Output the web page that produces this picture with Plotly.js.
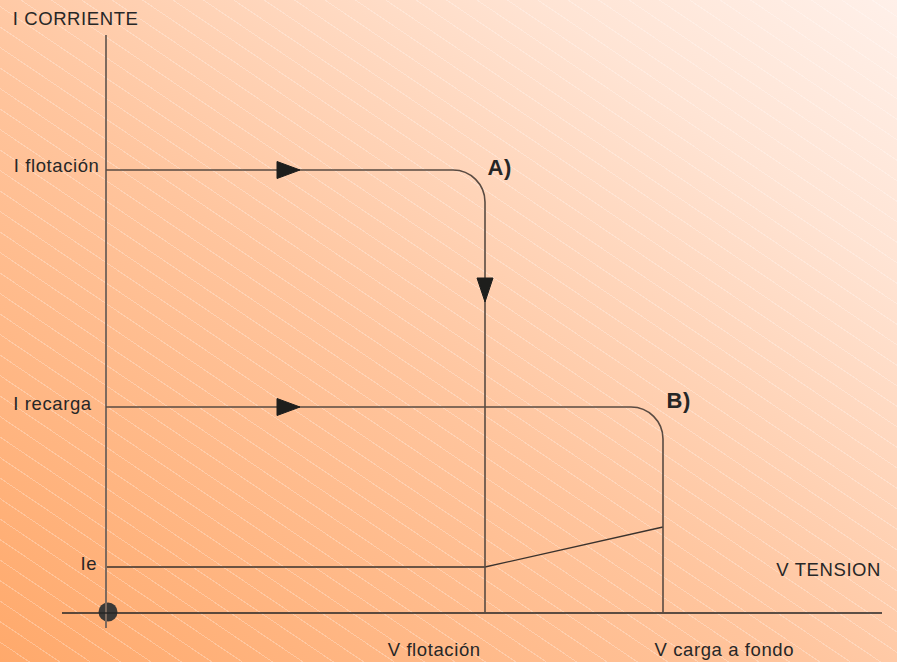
<!DOCTYPE html>
<html>
<head>
<meta charset="utf-8">
<script src="https://cdn.plot.ly/plotly-3.0.1.min.js"></script>
<style>
  html, body { margin: 0; padding: 0; }
  #chart {
    width: 897px; height: 662px;
    background:
      repeating-linear-gradient(34deg, rgba(255,255,255,0) 0px, rgba(255,255,255,0) 16px, rgba(255,255,255,0.26) 16px, rgba(255,255,255,0.26) 17px),
      linear-gradient(to top right, #ffa96b 0%, #ffc59e 45%, #ffe4d4 80%, #fff0e9 100%);
  }
  #chart svg text { letter-spacing: 0.6px; }
</style>
</head>
<body>
<div id="chart"></div>
<script>
// ---- data (units, origin at the axes crossing) ----
const vLabels = ['V flotación', 'V carga a fondo'];
const vValues = [3.79, 5.57];               // V flotación, V carga a fondo
const iLabels = ['I flotación', 'I recarga', 'Ie'];
const iValues = [4.43, 2.06, 0.46];         // I flotación, I recarga, Ie
const ieEndValue = 0.86;                    // current at V carga a fondo on the Ie line
const curveNames = ['A)', 'B)'];
const arrowStartX = [1.71, 1.71];           // right-pointing arrows on curves A and B
const arrowDownY = 3.35;                    // down-pointing arrow on curve A
const axisTitles = ['I CORRIENTE', 'V TENSION'];

// ---- drawing ----
const r = 0.32;            // corner radius
const k = 0.448;           // bezier handle factor (1 - 0.552)
const curveColor = '#5a4b42';
const axisColorV = '#7d6a5e';
const axisColorH = '#262626';
const textFont = {family: 'Liberation Sans, Arial, sans-serif', size: 18.5, color: '#272727'};

function cornerPath(v, i) {
  return 'M 0 ' + i +
    ' L ' + (v - r) + ' ' + i +
    ' C ' + (v - r * k) + ' ' + i + ' ' + v + ' ' + (i - r * k) + ' ' + v + ' ' + (i - r) +
    ' L ' + v + ' 0';
}

const shapes = [];
// axes
shapes.push({type: 'line', xref: 'x', yref: 'y', x0: 0, x1: 0, y0: -0.15, y1: 5.78,
  line: {color: axisColorV, width: 2}});
shapes.push({type: 'line', xref: 'x', yref: 'y', x0: -0.44, x1: 7.76, y0: 0, y1: 0,
  line: {color: axisColorH, width: 1.5}});
// curves A and B
shapes.push({type: 'path', xref: 'x', yref: 'y', path: cornerPath(vValues[0], iValues[0]),
  line: {color: curveColor, width: 1.6}});
shapes.push({type: 'path', xref: 'x', yref: 'y', path: cornerPath(vValues[1], iValues[1]),
  line: {color: curveColor, width: 1.6}});
// arrows
const ah = 0.085, aw = 0.23;
[0, 1].forEach(j => {
  const x0 = arrowStartX[j], y = iValues[j];
  shapes.push({type: 'path', xref: 'x', yref: 'y',
    path: 'M ' + x0 + ' ' + (y - ah) + ' L ' + x0 + ' ' + (y + ah) + ' L ' + (x0 + aw) + ' ' + y + ' Z',
    fillcolor: '#1e1e1c', line: {color: '#1e1e1c', width: 1}});
});
shapes.push({type: 'path', xref: 'x', yref: 'y',
  path: 'M ' + (vValues[0] - 0.08) + ' ' + arrowDownY + ' L ' + (vValues[0] + 0.08) + ' ' + arrowDownY +
        ' L ' + vValues[0] + ' ' + (arrowDownY - 0.24) + ' Z',
  fillcolor: '#1e1e1c', line: {color: '#1e1e1c', width: 1}});

const traces = [
  { // Ie line
    x: [0, vValues[0], vValues[1]],
    y: [iValues[2], iValues[2], ieEndValue],
    mode: 'lines', line: {color: '#3a322d', width: 1.3},
    hoverinfo: 'skip', showlegend: false
  },
  { // origin dot
    x: [0.02], y: [0.01], mode: 'markers',
    marker: {size: 19, color: '#3b3937'},
    hoverinfo: 'skip', showlegend: false
  }
];

const annotations = [];
function label(text, x, y, font, xanchor) {
  annotations.push({text: text, x: x, y: y, xref: 'x', yref: 'y', showarrow: false,
    xanchor: xanchor || 'left', yanchor: 'middle', font: font || textFont});
}
label(axisTitles[0], -0.92, 5.95);
label(axisTitles[1], 6.71, 0.44);
label(iLabels[0], -0.91, iValues[0] + 0.05);
label(iLabels[1], -0.92, iValues[1] + 0.04);
label(iLabels[2], -0.27, iValues[2] + 0.04);
label(vLabels[0], vValues[0] - 0.96, -0.36);
label(vLabels[1], vValues[1] - 0.06, -0.36);
const boldFont = {family: 'Liberation Sans, Arial, sans-serif', size: 22, color: '#262626', weight: 'bold'};
label('<b>' + curveNames[0] + '</b>', vValues[0] + 0.01, iValues[0] + 0.03, boldFont);
label('<b>' + curveNames[1] + '</b>', vValues[1] + 0.02, iValues[1] + 0.07, boldFont);

const layout = {
  width: 897, height: 662,
  margin: {l: 0, r: 0, t: 0, b: 0, pad: 0},
  paper_bgcolor: 'rgba(0,0,0,0)', plot_bgcolor: 'rgba(0,0,0,0)',
  xaxis: {range: [-1.06, 7.91], visible: false, fixedrange: true},
  yaxis: {range: [-0.49, 6.13], visible: false, fixedrange: true},
  shapes: shapes, annotations: annotations, showlegend: false
};
Plotly.newPlot('chart', traces, layout, {displayModeBar: false, staticPlot: true});
</script>
</body>
</html>
